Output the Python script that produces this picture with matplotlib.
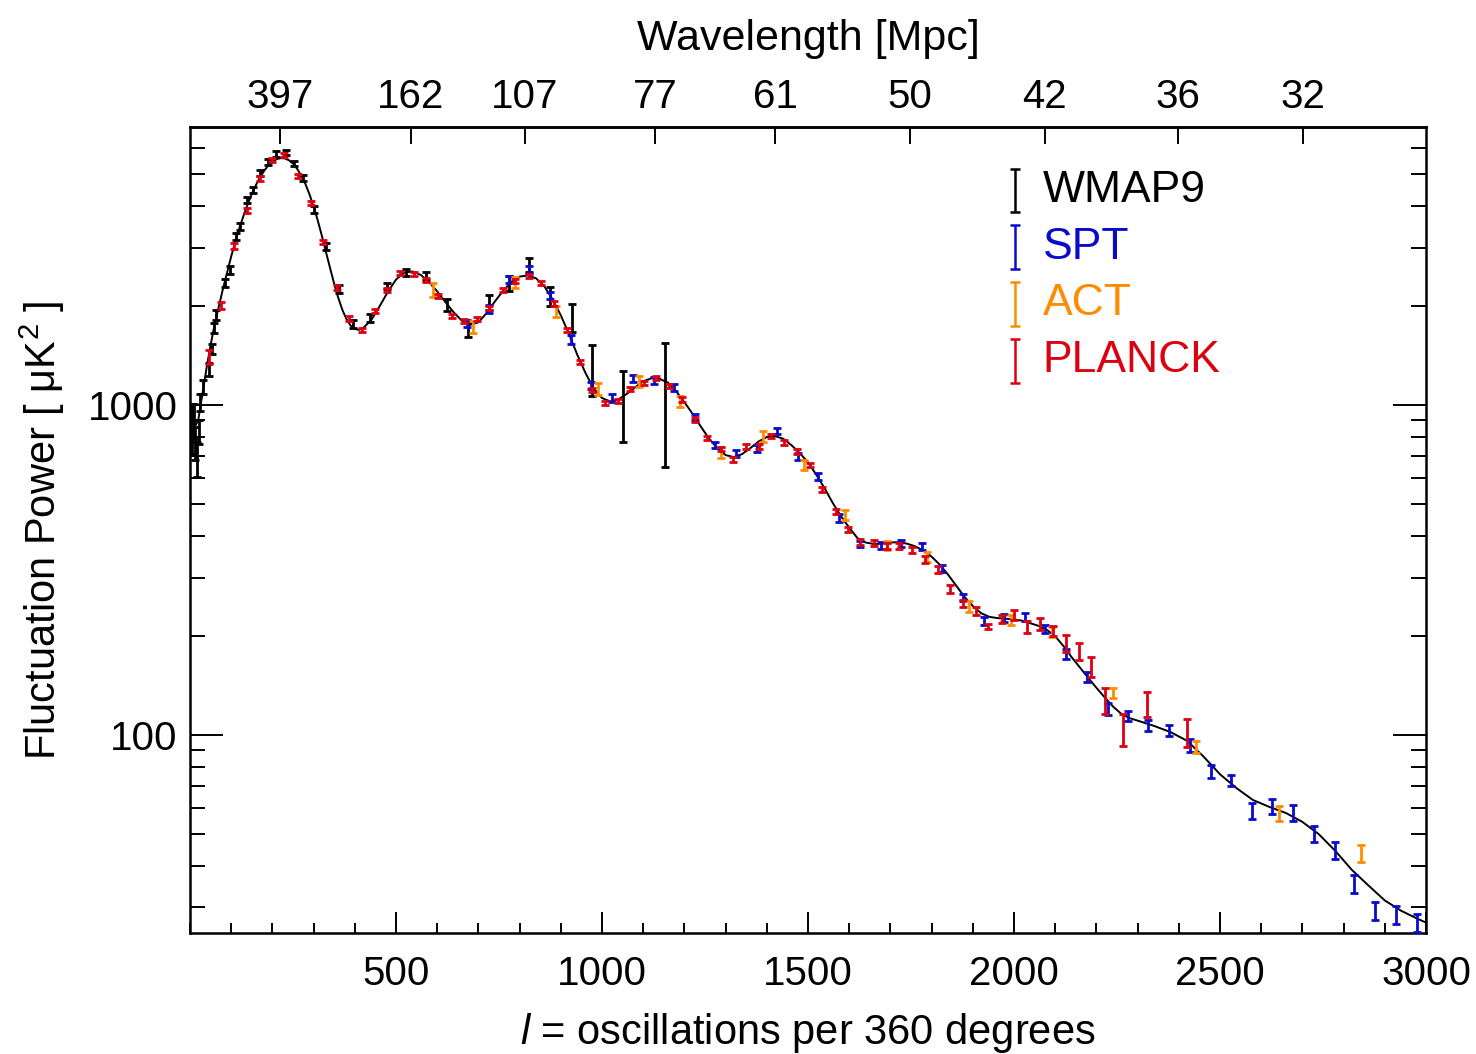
"""CMB angular power spectrum: WMAP9, SPT, ACT and Planck band powers over the best-fit model."""
import matplotlib as mpl
import matplotlib.pyplot as plt
from matplotlib.ticker import LogLocator, MultipleLocator, NullFormatter, NullLocator

mpl.rcParams.update({
    "font.family": ["Liberation Sans", "DejaVu Sans"],
    "mathtext.fontset": "custom",
    "mathtext.rm": "Liberation Sans",
    "mathtext.it": "Liberation Sans:italic",
    "font.size": 29, "axes.linewidth": 1.8,
})

# best-fit model curve, D_l [uK^2]
model_ell = [2, 10, 20, 30, 40, 50, 60, 70, 80, 90, 100, 110, 120, 130, 140, 150,
             160, 170, 180, 190, 200, 210, 220, 230, 240, 250, 260, 270, 280, 290,
             300, 310, 320, 330, 340, 350, 360, 370, 380, 390, 400, 410, 420, 440,
             460, 480, 500, 520, 540, 560, 580, 600, 620, 640, 660, 680, 700, 720,
             740, 760, 780, 800, 820, 840, 860, 880, 900, 920, 940, 960, 980, 1000,
             1020, 1040, 1060, 1080, 1100, 1120, 1140, 1160, 1180, 1200, 1220, 1240,
             1260, 1280, 1300, 1320, 1340, 1360, 1380, 1400, 1420, 1440, 1460, 1480,
             1500, 1520, 1540, 1560, 1580, 1600, 1620, 1640, 1660, 1680, 1700, 1720,
             1740, 1760, 1780, 1800, 1820, 1840, 1860, 1880, 1900, 1920, 1940, 1960,
             1980, 2000, 2020, 2040, 2060, 2080, 2100, 2120, 2140, 2160, 2180, 2200,
             2220, 2240, 2260, 2280, 2300, 2340, 2380, 2420, 2460, 2500, 2540, 2580,
             2620, 2660, 2700, 2740, 2780, 2820, 2860, 2900, 2940, 2980, 3000]
model_dl = [1000, 850, 900, 1080, 1290, 1520, 1760, 1990, 2250, 2520, 2820, 3130,
            3440, 3750, 4060, 4360, 4640, 4900, 5130, 5320, 5460, 5560, 5600, 5590,
            5520, 5390, 5200, 4960, 4680, 4350, 4000, 3630, 3260, 2910, 2600, 2330,
            2110, 1940, 1820, 1740, 1700, 1690, 1710, 1810, 1990, 2200, 2400, 2520,
            2540, 2480, 2360, 2210, 2050, 1910, 1800, 1750, 1780, 1900, 2060, 2220,
            2360, 2450, 2470, 2420, 2290, 2090, 1870, 1640, 1420, 1250, 1120, 1050,
            1025, 1040, 1080, 1130, 1180, 1205, 1200, 1170, 1100, 1020, 940, 860,
            790, 740, 705, 695, 710, 740, 775, 800, 805, 790, 755, 715, 670, 615,
            560, 505, 460, 425, 395, 383, 379, 380, 383, 384, 380, 373, 362, 347,
            328, 306, 283, 262, 246, 234, 228, 226, 225, 224, 222, 218, 214, 208,
            199, 186, 172, 160, 149, 139, 130, 122, 116, 112.5, 110.5, 106.5, 102,
            96, 86, 76, 69, 63.5, 60.5, 58, 54.5, 50, 44.5, 39, 35, 31.5, 29.3,
            27.7, 27]

wmap_ell = [5, 9, 13, 17, 21, 25, 31, 45, 54, 59, 64, 85, 97, 111, 121, 138, 154,
            171, 190, 208, 232, 252, 275, 302, 331, 361, 396, 436, 479, 525, 573,
            624, 674, 726, 775, 824, 873, 926, 976, 1050, 1152]
wmap_dl = [860, 900, 770, 690, 830, 1020, 1136, 1283, 1480, 1711, 1874, 2344, 2566,
           3235, 3467, 4180, 4485, 5060, 5460, 5770, 5820, 5400, 4865, 3917, 3033,
           2250, 1763, 1833, 2296, 2525, 2460, 2009, 1695, 2043, 2338, 2660, 2140,
           1841, 1270, 988, 1000]
wmap_err_lo = [150, 110, 90, 85, 70, 60, 55, 55, 55, 60, 60, 70, 75, 80, 85, 90, 95,
               100, 105, 110, 110, 105, 100, 90, 75, 60, 50, 50, 55, 65, 75, 80, 90,
               105, 125, 130, 140, 172, 205, 217, 350]
wmap_err_hi = [150, 110, 90, 85, 70, 60, 55, 55, 55, 60, 60, 70, 75, 80, 85, 90, 95,
               100, 105, 110, 110, 105, 100, 90, 75, 60, 50, 50, 55, 65, 75, 80, 90,
               105, 125, 130, 140, 183, 250, 280, 538]

spt_ell = [672, 726, 775, 824, 873, 925, 973, 1024, 1075, 1126, 1174, 1225, 1274,
           1326, 1375, 1425, 1476, 1524, 1575, 1626, 1676, 1725, 1776, 1826, 1877,
           1927, 1976, 2026, 2076, 2126, 2177, 2227, 2276, 2326, 2377, 2428, 2477,
           2527, 2577, 2626, 2677, 2727, 2778, 2826, 2877, 2928, 2978]
spt_dl = [1768, 1955, 2406, 2579, 2150, 1581, 1147, 1052, 1201, 1186, 1128, 920,
          757, 712, 739, 834, 697, 609, 454, 379, 375, 381, 373, 320, 261, 222, 226,
          228, 210, 176, 150, 120, 114, 107, 103, 93, 77.4, 72.8, 59, 60.7, 58,
          50.1, 44.7, 35.3, 29.3, 28.6, 27]
spt_err = [45, 50, 55, 60, 55, 45, 30, 28, 30, 28, 28, 22, 18, 17, 18, 20, 16, 15,
           12, 9, 9, 9, 9, 8, 7, 6, 6, 6, 6, 6, 5, 5, 4, 4, 4, 4, 3.5, 3.0, 3.2,
           3.2, 3.2, 2.8, 2.6, 2.2, 1.8, 1.8, 1.7]

act_ell = [590, 688, 790, 889, 990, 1091, 1190, 1290, 1391, 1490, 1591, 1691, 1790,
           1891, 1992, 2092, 2241, 2442, 2642, 2843]
act_dl = [2230, 1726, 2354, 1920, 1120, 1182, 1026, 719, 805, 658, 464, 375, 347,
          245, 223, 205, 134, 92, 57.7, 43.8]
act_err = [107, 70, 95, 75, 48, 45, 38, 29, 31, 23, 16, 11, 12, 9, 8, 7.5, 5, 4,
           3, 2.7]

planck_ell = [45, 75, 108, 138, 170, 200, 229, 263, 294, 324, 356, 387, 417, 449,
              479, 510, 543, 573, 603, 636, 666, 697, 726, 759, 790, 822, 852, 884,
              915, 946, 976, 1008, 1038, 1069, 1101, 1132, 1162, 1195, 1225, 1255,
              1288, 1318, 1350, 1381, 1411, 1441, 1474, 1504, 1534, 1567, 1597, 1627,
              1660, 1691, 1721, 1753, 1784, 1816, 1845, 1876, 1907, 1937, 1972, 2000,
              2031, 2063, 2094, 2126, 2157, 2187, 2221, 2264, 2324, 2420]
planck_dl = [1400, 2009, 3033, 3898, 4870, 5525, 5725, 4955, 4102, 3120, 2278, 1833,
             1688, 1928, 2230, 2508, 2489, 2392, 2140, 1862, 1799, 1820, 1963, 2230,
             2370, 2466, 2338, 2030, 1684, 1352, 1110, 1016, 1030, 1116, 1168, 1205,
             1144, 1040, 905, 793, 735, 685, 748, 748, 805, 771, 722, 658, 556, 475,
             420, 385, 381, 375, 375, 364, 341, 318, 277, 251, 238, 213, 225, 231,
             213, 217, 207, 190, 179, 161, 127, 104, 124, 102]
planck_err = [67, 50, 60, 70, 80, 80, 80, 70, 60, 50, 40, 30, 25, 28, 30, 35, 35, 33,
              30, 28, 27, 27, 28, 30, 32, 33, 32, 30, 25, 20, 18, 15, 15, 16, 17, 17,
              17, 16, 14, 12, 12, 11, 12, 12, 13, 12, 12, 11, 10, 9, 8, 8, 8, 8, 8,
              8.4, 8, 8, 7.5, 6, 7, 3.8, 6.7, 8, 8.7, 9, 7, 11, 10.7, 11.6, 11.4,
              11.4, 10.5, 9.9]

experiments = ["WMAP9", "SPT", "ACT", "PLANCK"]
exp_colors = ["#000000", "#0A0ACC", "#FF8C00", "#DD0011"]

top_tick_ell = [218, 536, 813, 1129, 1420, 1748, 2075, 2398, 2701]
top_tick_labels = ["397", "162", "107", "77", "61", "50", "42", "36", "32"]

fig = plt.figure(figsize=(14.76, 10.54), dpi=100)
ax = fig.add_axes([190 / 1476, 121 / 1054, 1236 / 1476, 806 / 1054])

ax.plot(model_ell, model_dl, color="black", lw=1.4, zorder=1)

bar = dict(fmt="none", elinewidth=2.0, capsize=3.2, capthick=2.0)
ax.errorbar(wmap_ell, wmap_dl, yerr=[wmap_err_lo, wmap_err_hi],
            ecolor=exp_colors[0], zorder=2, **bar)
ax.errorbar(spt_ell, spt_dl, yerr=spt_err, ecolor=exp_colors[1], zorder=3, **bar)
ax.errorbar(act_ell, act_dl, yerr=act_err, ecolor=exp_colors[2], zorder=4, **bar)
ax.errorbar(planck_ell, planck_dl, yerr=planck_err, ecolor=exp_colors[3], zorder=5,
            **bar)

ax.set_yscale("log")
ax.set_xlim(0, 3000)
ax.set_ylim(25.1, 6960)
ax.set_xticks([500, 1000, 1500, 2000, 2500, 3000])
ax.xaxis.set_minor_locator(MultipleLocator(100))
ax.set_yticks([100, 1000], ["100", "1000"])
ax.yaxis.set_minor_locator(LogLocator(base=10, subs=range(2, 10)))
ax.yaxis.set_minor_formatter(NullFormatter())
ax.tick_params(axis="x", which="major", direction="in", length=15, width=1.4,
               top=False, pad=16, labelsize=29)
ax.tick_params(axis="x", which="minor", direction="in", length=7, width=1.4,
               top=False)
ax.tick_params(axis="y", which="major", direction="in", length=24, width=1.4,
               right=True, pad=9, labelsize=29)
ax.tick_params(axis="y", which="minor", direction="in", length=11, width=1.4,
               right=True)
ax.set_xlabel(r"$\mathit{l}$ = oscillations per 360 degrees", fontsize=30,
              labelpad=13)
ax.set_ylabel("Fluctuation Power [ μK$^2$ ]", fontsize=30, labelpad=15)

top = ax.secondary_xaxis("top")
top.set_xticks(top_tick_ell, top_tick_labels)
top.xaxis.set_minor_locator(NullLocator())
top.tick_params(direction="in", length=12, width=1.4, pad=8, labelsize=29)
top.set_xlabel("Wavelength [Mpc]", fontsize=31, labelpad=20)

# legend drawn as bare error-bar glyphs with coloured names
for i, (name, color) in enumerate(zip(experiments, exp_colors)):
    yc = 0.9215 - i * 0.0705
    ax.plot([0.6675, 0.6675], [yc - 0.027, yc + 0.027], color=color, lw=1.8,
            transform=ax.transAxes, solid_capstyle="butt")
    for yy in (yc - 0.027, yc + 0.027):
        ax.plot([0.6635, 0.6715], [yy, yy], color=color, lw=1.8,
                transform=ax.transAxes, solid_capstyle="butt")
    ax.text(0.690, yc, name, color=color, fontsize=32, va="center", ha="left",
            transform=ax.transAxes)

fig.savefig("out.png", dpi=100)
